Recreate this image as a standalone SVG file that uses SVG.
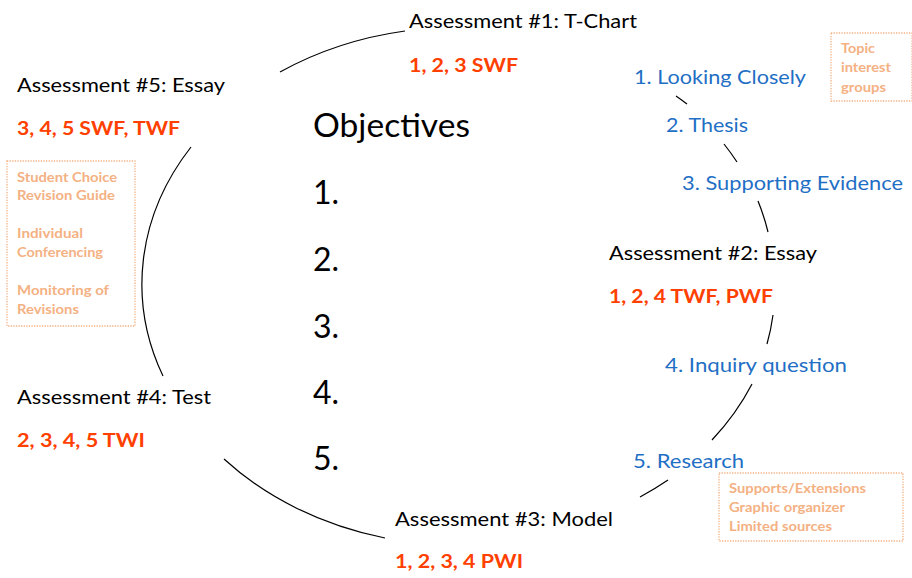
<svg xmlns="http://www.w3.org/2000/svg" width="912" height="578" viewBox="0 0 912 578">
<style>
text{font-family:Lato,"Open Sans","Liberation Sans",sans-serif}
.a{font-size:20px;fill:#000}
.r{font-size:19px;font-weight:bold;fill:#FF4000}
.b{font-size:20px;fill:#1F6FC5}
.o{font-size:13px;font-weight:bold;fill:#F4B183}
.obj{font-size:32px;fill:#000}
.box{fill:none;stroke:#F4B183;stroke-width:1.3;stroke-dasharray:1.3 1.3}
.c{fill:none;stroke:#000;stroke-width:1.2}
</style>
<rect width="912" height="578" fill="#fff"/>
<g id="connectors">
<path class="c" d="M280,72 A316,256 0 0,1 405,31"/>
<path class="c" d="M191,147 A316,256 0 0,0 163,376"/>
<path class="c" d="M224,459 A316,256 0 0,0 385,538"/>
<path class="c" d="M676,96 A316,256 0 0,1 687,104"/>
<path class="c" d="M724,144 A316,256 0 0,1 737,162"/>
<path class="c" d="M758,201 A316,256 0 0,1 768,232"/>
<path class="c" d="M773,315 A316,256 0 0,1 767,344"/>
<path class="c" d="M752,384 A316,256 0 0,1 712,440"/>
<path class="c" d="M668,480 A316,256 0 0,1 640,497"/>
</g>
<g id="objectives">
<text class="obj" x="313" y="137" textLength="157" lengthAdjust="spacingAndGlyphs">Objectives</text>
<text class="obj" x="313" y="204">1.</text>
<text class="obj" x="313" y="271">2.</text>
<text class="obj" x="313" y="338">3.</text>
<text class="obj" x="313" y="404">4.</text>
<text class="obj" x="313" y="470">5.</text>
</g>
<g id="assessment1">
<text class="a" x="409" y="28" textLength="228" lengthAdjust="spacingAndGlyphs">Assessment #1: T-Chart</text>
<text class="r" x="409" y="72" textLength="109" lengthAdjust="spacingAndGlyphs">1, 2, 3 SWF</text>
</g>
<g id="assessment2">
<text class="a" x="609" y="260" textLength="208" lengthAdjust="spacingAndGlyphs">Assessment #2: Essay</text>
<text class="r" x="609" y="303" textLength="164" lengthAdjust="spacingAndGlyphs">1, 2, 4 TWF, PWF</text>
</g>
<g id="assessment3">
<text class="a" x="395" y="526" textLength="218" lengthAdjust="spacingAndGlyphs">Assessment #3: Model</text>
<text class="r" x="395" y="568" textLength="128" lengthAdjust="spacingAndGlyphs">1, 2, 3, 4 PWI</text>
</g>
<g id="assessment4">
<text class="a" x="17" y="404" textLength="194" lengthAdjust="spacingAndGlyphs">Assessment #4: Test</text>
<text class="r" x="17" y="447" textLength="128" lengthAdjust="spacingAndGlyphs">2, 3, 4, 5 TWI</text>
</g>
<g id="assessment5">
<text class="a" x="17" y="92" textLength="208" lengthAdjust="spacingAndGlyphs">Assessment #5: Essay</text>
<text class="r" x="17" y="135" textLength="163" lengthAdjust="spacingAndGlyphs">3, 4, 5 SWF, TWF</text>
</g>
<g id="step1"><text class="b" x="634" y="84" textLength="172" lengthAdjust="spacingAndGlyphs">1. Looking Closely</text></g>
<g id="step2"><text class="b" x="666" y="132" textLength="82" lengthAdjust="spacingAndGlyphs">2. Thesis</text></g>
<g id="step3"><text class="b" x="682" y="190" textLength="221" lengthAdjust="spacingAndGlyphs">3. Supporting Evidence</text></g>
<g id="step4"><text class="b" x="665" y="372" textLength="182" lengthAdjust="spacingAndGlyphs">4. Inquiry question</text></g>
<g id="step5"><text class="b" x="633" y="468" textLength="111" lengthAdjust="spacingAndGlyphs">5. Research</text></g>
<g id="note-topic">
<rect class="box" x="831" y="33" width="81" height="68"/>
<text class="o" x="841" y="53" textLength="34" lengthAdjust="spacingAndGlyphs">Topic</text>
<text class="o" x="841" y="72" textLength="50" lengthAdjust="spacingAndGlyphs">interest</text>
<text class="o" x="841" y="92" textLength="45" lengthAdjust="spacingAndGlyphs">groups</text>
</g>
<g id="note-revision">
<rect class="box" x="7" y="161" width="128" height="165"/>
<text class="o" x="17" y="182" textLength="100" lengthAdjust="spacingAndGlyphs">Student Choice</text>
<text class="o" x="17" y="200" textLength="98" lengthAdjust="spacingAndGlyphs">Revision Guide</text>
<text class="o" x="17" y="238" textLength="66" lengthAdjust="spacingAndGlyphs">Individual</text>
<text class="o" x="17" y="257" textLength="86" lengthAdjust="spacingAndGlyphs">Conferencing</text>
<text class="o" x="17" y="295" textLength="92" lengthAdjust="spacingAndGlyphs">Monitoring of</text>
<text class="o" x="17" y="314" textLength="62" lengthAdjust="spacingAndGlyphs">Revisions</text>
</g>
<g id="note-supports">
<rect class="box" x="719" y="473" width="184" height="68"/>
<text class="o" x="729" y="493" textLength="137" lengthAdjust="spacingAndGlyphs">Supports/Extensions</text>
<text class="o" x="729" y="512" textLength="116" lengthAdjust="spacingAndGlyphs">Graphic organizer</text>
<text class="o" x="729" y="531" textLength="103" lengthAdjust="spacingAndGlyphs">Limited sources</text>
</g>
</svg>
